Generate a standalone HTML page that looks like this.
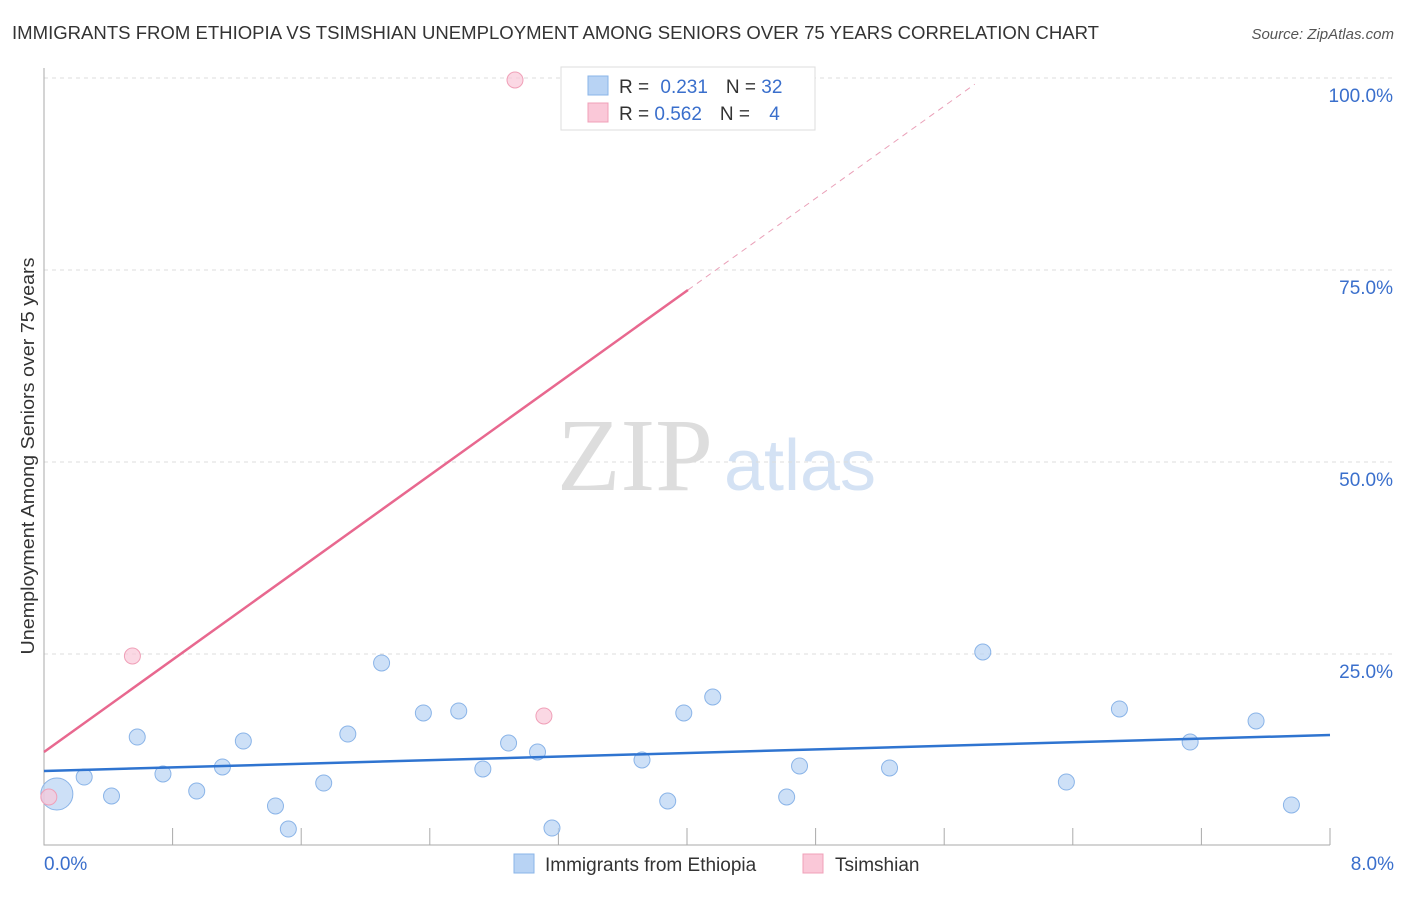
<!DOCTYPE html>
<html><head><meta charset="utf-8"><style>
body{margin:0;background:#fff;font-family:"Liberation Sans",sans-serif;}
</style></head><body>
<svg id="c" width="1406" height="892" xmlns="http://www.w3.org/2000/svg">
<text x="12" y="39" font-size="18" fill="#333" textLength="1087" lengthAdjust="spacingAndGlyphs">IMMIGRANTS FROM ETHIOPIA VS TSIMSHIAN UNEMPLOYMENT AMONG SENIORS OVER 75 YEARS CORRELATION CHART</text>
<text x="1394" y="39" font-size="15" fill="#555" font-style="italic" text-anchor="end">Source: ZipAtlas.com</text>
<text x="635" y="490" font-size="104" fill="#ddd" font-family="Liberation Serif" text-anchor="middle">ZIP</text>
<text x="800" y="490" font-size="72" fill="#d4e2f4" text-anchor="middle">atlas</text>
<text transform="translate(34,456) rotate(-90)" font-size="18" fill="#333" text-anchor="middle" textLength="397" lengthAdjust="spacingAndGlyphs">Unemployment Among Seniors over 75 years</text>
<g id="grid"></g><g id="marks"></g>
<g>
<rect x="561" y="67" width="254" height="63" fill="#fff" stroke="#ddd"/>
<rect x="588" y="76" width="20" height="19" fill="#b8d3f4" stroke="#8ab4e8"/>
<rect x="588" y="103" width="20" height="19" fill="#fac8d8" stroke="#f0a0b8"/>
<text x="619" y="93" font-size="19" fill="#333">R = <tspan fill="#3a6fcc" dx="6">0.231</tspan><tspan dx="18" fill="#333">N = </tspan><tspan fill="#3a6fcc">32</tspan></text>
<text x="619" y="120" font-size="19" fill="#333">R = <tspan fill="#3a6fcc">0.562</tspan><tspan dx="18" fill="#333">N = </tspan><tspan fill="#3a6fcc" dx="14">4</tspan></text>
</g>
<g>
<rect x="514" y="854" width="20" height="19" fill="#b8d3f4" stroke="#8ab4e8"/>
<text x="545" y="871" font-size="19" fill="#333">Immigrants from Ethiopia</text>
<rect x="803" y="854" width="20" height="19" fill="#fac8d8" stroke="#f0a0b8"/>
<text x="835" y="871" font-size="19" fill="#333">Tsimshian</text>
</g>
</svg>
<script>
const blueX=[0.08,0.25,0.42,0.58,0.74,0.95,1.11,1.24,1.44,1.52,1.74,1.89,2.10,2.36,2.58,2.73,2.89,3.07,3.16,3.72,3.88,3.98,4.16,4.62,4.70,5.26,5.84,6.36,6.69,7.13,7.54,7.76];
const blueY=[6.77,8.98,6.51,14.19,9.38,7.16,10.29,13.67,5.21,2.21,8.20,14.58,23.83,17.32,17.58,10.03,13.41,12.24,2.34,11.20,5.86,17.32,19.40,6.38,10.42,10.16,25.26,8.33,17.84,13.54,16.28,5.34];
const pinkX=[0.03,0.55,3.11,2.93];
const pinkY=[6.38,24.74,16.93,99.74];
const yTicks=[25,50,75,100];
const yTickLabels=["25.0%","50.0%","75.0%","100.0%"];
const blueTrend=[9.77,14.45];
const pinkTrend=[12.24,72.4];
const NS="http://www.w3.org/2000/svg";
const X=v=>44+v/8*1286, Y=v=>846-v/100*768;
function mk(t,a,p){const e=document.createElementNS(NS,t);for(const k in a)e.setAttribute(k,a[k]);p.appendChild(e);return e;}
const g=document.getElementById('grid'), m=document.getElementById('marks');
yTicks.forEach((t,i)=>{
 const l=mk('line',{x1:44,x2:1394,y1:Y(t),y2:Y(t),stroke:'#ddd','stroke-dasharray':'4,4'},g);
 
 
 const tx=mk('text',{x:1393,y:Y(t)+24,'font-size':19,fill:'#3a6fcc','text-anchor':'end'},g);tx.textContent=yTickLabels[i];
 
 
});
const ax=mk('path',{d:'M44 68V845H1330',stroke:'#aaa',fill:'none'},g);


for(let i=1;i<=10;i++){const t=mk('line',{x1:X(i*0.8),x2:X(i*0.8),y1:828,y2:845,stroke:'#aaa'},g);
 
 }
[["0.0%",44,'start'],["8.0%",1394,'end']].forEach(([s,x,a])=>{const t=mk('text',{x:x,y:870,'font-size':19,fill:'#3a6fcc','text-anchor':a},g);t.textContent=s;
 
 });
blueX.forEach((v,i)=>{const c=mk('circle',{cx:X(v),cy:Y(blueY[i]),r:i==0?16:8,fill:'#b8d3f4','fill-opacity':0.7,stroke:'#8ab4e8'},m);
 
 });
pinkX.forEach((v,i)=>{const c=mk('circle',{cx:X(v),cy:Y(pinkY[i]),r:8,fill:'#fac8d8','fill-opacity':0.7,stroke:'#f0a0b8'},m);
 
 });
const bl=mk('line',{x1:X(0),y1:Y(blueTrend[0]),x2:X(8),y2:Y(blueTrend[1]),stroke:'#2f74d0','stroke-width':2.5},m);


const slope=(pinkTrend[1]-pinkTrend[0])/4.006;
const pl=mk('line',{x1:X(0),y1:Y(pinkTrend[0]),x2:X(4.006),y2:Y(pinkTrend[1]),stroke:'#e8688f','stroke-width':2.5},m);


const pd=mk('line',{x1:X(4.006),y1:Y(pinkTrend[1]),x2:X(5.79),y2:Y(pinkTrend[0]+slope*5.79),stroke:'#eaa0b8','stroke-width':1,'stroke-dasharray':'6,5'},m);


</script>
</body></html>
